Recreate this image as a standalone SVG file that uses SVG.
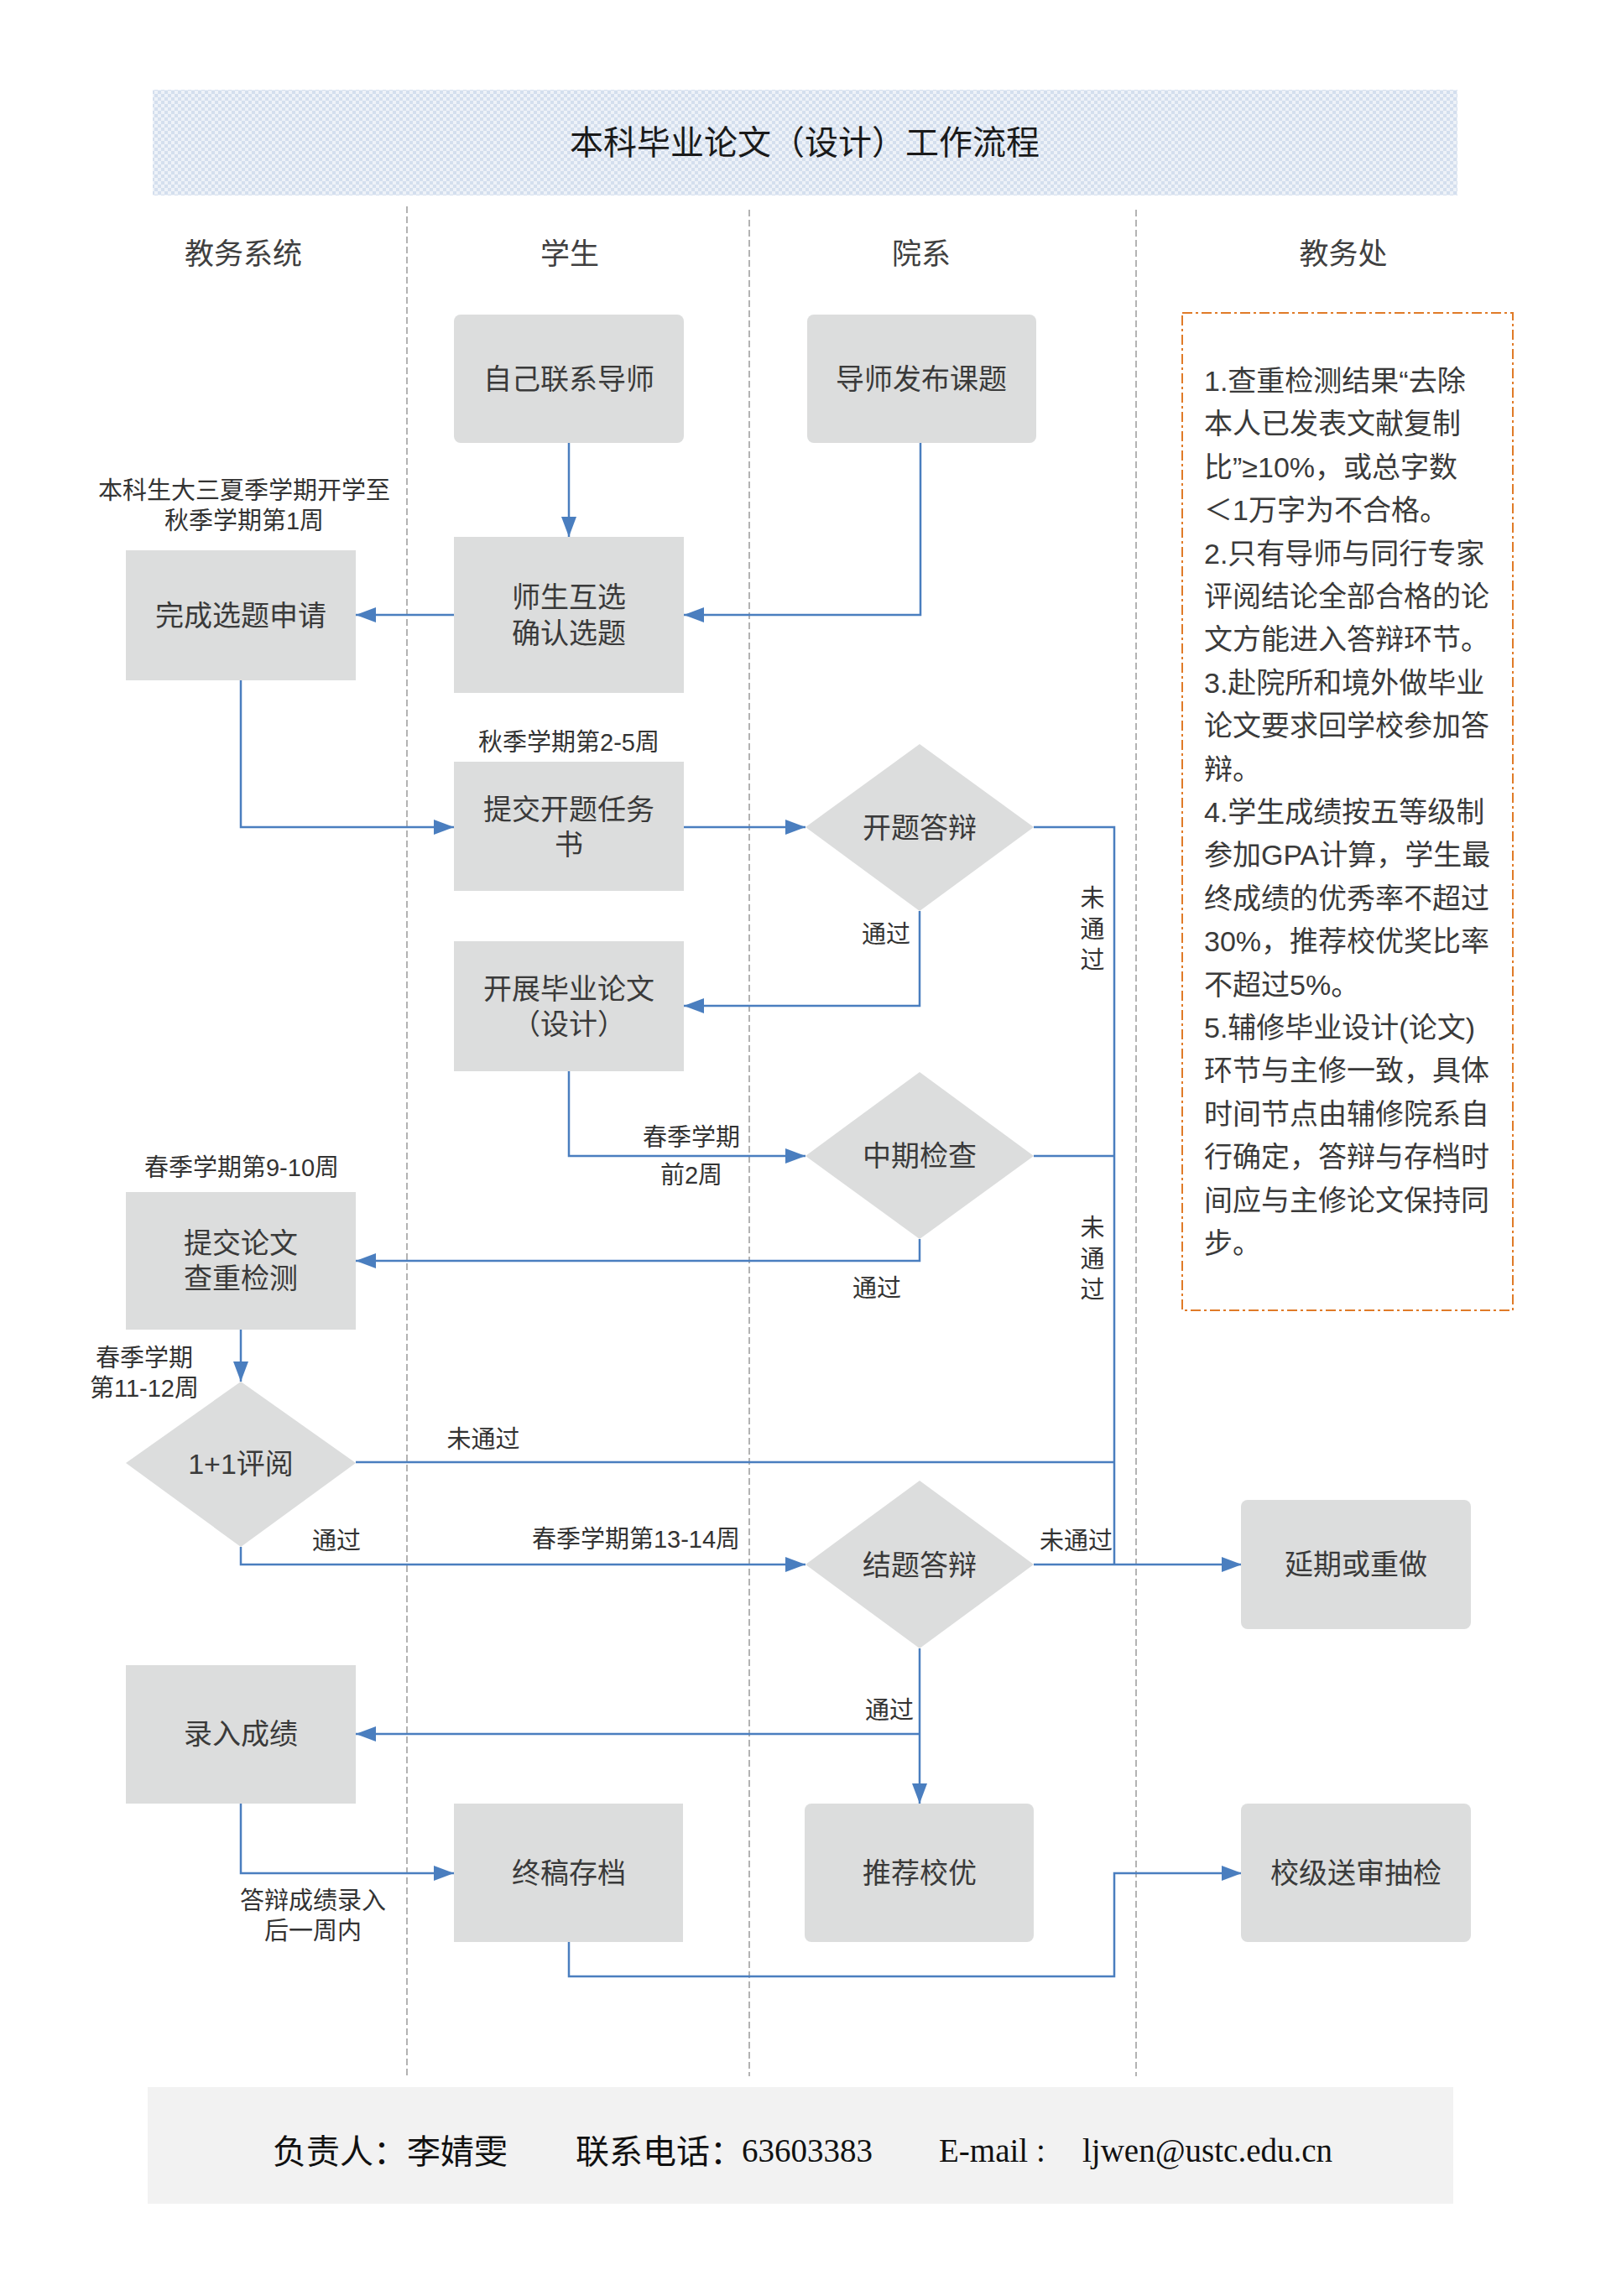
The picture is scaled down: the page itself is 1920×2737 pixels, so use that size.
<svg xmlns="http://www.w3.org/2000/svg" width="1920" height="2737" viewBox="0 0 1920 2737">
<style>
.cj{font-family:"Liberation Sans","Noto Sans CJK SC",sans-serif;}
.node{fill:#dcdddd;}
.nt{font-size:34px;fill:#3a3a3a;text-anchor:middle;dominant-baseline:central;}
.hd{font-size:35px;fill:#404040;text-anchor:middle;dominant-baseline:central;}
.lb{font-size:29px;fill:#333;text-anchor:middle;dominant-baseline:central;}
.lbr{font-size:29px;fill:#333;text-anchor:end;dominant-baseline:central;}
.note{font-size:34px;fill:#3a3a3a;dominant-baseline:central;}
.lane{stroke:#9a9a9a;stroke-width:1.5;stroke-dasharray:8 4;fill:none;}
.c{stroke:#4a7ebf;stroke-width:2.5;fill:none;}
.ca{stroke:#4a7ebf;stroke-width:2.5;fill:none;marker-end:url(#ah);}
.ft{font-size:40px;fill:#111;dominant-baseline:central;font-family:"Noto Sans CJK SC",sans-serif;}
.fs{font-size:39px;fill:#111;dominant-baseline:central;font-family:"Liberation Serif",serif;}
</style>
<defs>
<pattern id="chk" width="8" height="8" patternUnits="userSpaceOnUse">
<rect width="8" height="8" fill="#eef2f8"/>
<rect width="4" height="4" fill="#d4dfee"/>
<rect x="4" y="4" width="4" height="4" fill="#d4dfee"/>
</pattern>
<marker id="ah" markerUnits="userSpaceOnUse" viewBox="0 0 24 18" refX="24" refY="9" markerWidth="24" markerHeight="18" orient="auto">
<path d="M0,0 L24,9 L0,18 z" fill="#4a7ebf"/>
</marker>
</defs>
<rect width="1920" height="2737" fill="#ffffff"/>

<g id="banner">
<rect x="182" y="107" width="1555" height="126" fill="url(#chk)"/>
<text x="959" y="170" class="cj" font-size="40" fill="#1a1a1a" text-anchor="middle" dominant-baseline="central">本科毕业论文（设计）工作流程</text>
</g>

<g id="lanes">
<line class="lane" x1="485" y1="246" x2="485" y2="2475"/>
<line class="lane" x1="893" y1="250" x2="893" y2="2475"/>
<line class="lane" x1="1354" y1="250" x2="1354" y2="2475"/>
<text class="cj hd" x="290" y="302">教务系统</text>
<text class="cj hd" x="679" y="302">学生</text>
<text class="cj hd" x="1098" y="302">院系</text>
<text class="cj hd" x="1601" y="302">教务处</text>
</g>

<g id="connectors">
<path class="ca" d="M678,528 L678,640"/>
<path class="ca" d="M1097,528 L1097,733 L815,733"/>
<path class="ca" d="M541,733 L424,733"/>
<path class="ca" d="M287,811 L287,986 L541,986"/>
<path class="ca" d="M815,986 L960,986"/>
<path class="ca" d="M1096,1086 L1096,1199 L815,1199"/>
<path class="c" d="M1232,986 L1328,986 L1328,1865"/>
<path class="ca" d="M678,1277 L678,1378 L960,1378"/>
<path class="c" d="M1232,1378 L1328,1378"/>
<path class="ca" d="M1096,1477 L1096,1503 L424,1503"/>
<path class="ca" d="M287,1585 L287,1647"/>
<path class="c" d="M424,1743 L1328,1743"/>
<path class="ca" d="M287,1844 L287,1865 L960,1865"/>
<path class="ca" d="M1232,1865 L1480,1865"/>
<path class="ca" d="M1096,1965 L1096,2150"/>
<path class="ca" d="M1096,2067 L424,2067"/>
<path class="ca" d="M287,2150 L287,2233 L541,2233"/>
<path class="ca" d="M678,2315 L678,2356 L1328,2356 L1328,2233 L1480,2233"/>
</g>

<g id="edge-labels">
<text class="cj lb" x="291" y="585">本科生大三夏季学期开学至</text>
<text class="cj lb" x="291" y="621">秋季学期第1周</text>
<text class="cj lb" x="678" y="885">秋季学期第2-5周</text>
<text class="cj lbr" x="1085" y="1114">通过</text>
<text class="cj lb" x="1302" y="1071">未</text>
<text class="cj lb" x="1302" y="1108">通</text>
<text class="cj lb" x="1302" y="1145">过</text>
<text class="cj lb" x="824" y="1356">春季学期</text>
<text class="cj lb" x="824" y="1401">前2周</text>
<text class="cj lb" x="1302" y="1464">未</text>
<text class="cj lb" x="1302" y="1501">通</text>
<text class="cj lb" x="1302" y="1538">过</text>
<text class="cj lb" x="1045" y="1536">通过</text>
<text class="cj lb" x="288" y="1392">春季学期第9-10周</text>
<text class="cj lb" x="172" y="1619">春季学期</text>
<text class="cj lb" x="172" y="1655">第11-12周</text>
<text class="cj lb" x="576" y="1716">未通过</text>
<text class="cj lb" x="401" y="1837">通过</text>
<text class="cj lb" x="758" y="1835">春季学期第13-14周</text>
<text class="cj lbr" x="1326" y="1837">未通过</text>
<text class="cj lbr" x="1089" y="2039">通过</text>
<text class="cj lb" x="373" y="2266">答辩成绩录入</text>
<text class="cj lb" x="373" y="2302">后一周内</text>
</g>

<g id="n-lianxi">
<rect class="node" x="541" y="375" width="274" height="153" rx="8"/>
<text class="cj nt" x="678" y="452">自己联系导师</text>
</g>
<g id="n-fabu">
<rect class="node" x="962" y="375" width="273" height="153" rx="8"/>
<text class="cj nt" x="1098" y="452">导师发布课题</text>
</g>
<g id="n-huxuan">
<rect class="node" x="541" y="640" width="274" height="186"/>
<text class="cj nt" x="678" y="712">师生互选</text>
<text class="cj nt" x="678" y="755">确认选题</text>
</g>
<g id="n-shenqing">
<rect class="node" x="150" y="656" width="274" height="155"/>
<text class="cj nt" x="287" y="734">完成选题申请</text>
</g>
<g id="n-kaiti">
<rect class="node" x="541" y="908" width="274" height="154"/>
<text class="cj nt" x="678" y="965">提交开题任务</text>
<text class="cj nt" x="678" y="1007">书</text>
</g>
<g id="n-kaitidabian">
<polygon class="node" points="960,986 1096,887 1232,986 1096,1086"/>
<text class="cj nt" x="1096" y="987">开题答辩</text>
</g>
<g id="n-kaizhan">
<rect class="node" x="541" y="1122" width="274" height="155"/>
<text class="cj nt" x="678" y="1179">开展毕业论文</text>
<text class="cj nt" x="678" y="1221">（设计）</text>
</g>
<g id="n-zhongqi">
<polygon class="node" points="960,1378 1096,1278 1232,1378 1096,1477"/>
<text class="cj nt" x="1096" y="1378">中期检查</text>
</g>
<g id="n-chachong">
<rect class="node" x="150" y="1421" width="274" height="164"/>
<text class="cj nt" x="287" y="1482">提交论文</text>
<text class="cj nt" x="287" y="1524">查重检测</text>
</g>
<g id="n-pingyue">
<polygon class="node" points="150,1744 287,1647 424,1744 287,1844"/>
<text class="cj nt" x="287" y="1745">1+1评阅</text>
</g>
<g id="n-jieti">
<polygon class="node" points="960,1865 1096,1765 1232,1865 1096,1965"/>
<text class="cj nt" x="1096" y="1866">结题答辩</text>
</g>
<g id="n-yanqi">
<rect class="node" x="1479" y="1788" width="274" height="154" rx="8"/>
<text class="cj nt" x="1616" y="1865">延期或重做</text>
</g>
<g id="n-luru">
<rect class="node" x="150" y="1985" width="274" height="165"/>
<text class="cj nt" x="287" y="2067">录入成绩</text>
</g>
<g id="n-zhonggao">
<rect class="node" x="541" y="2150" width="273" height="165"/>
<text class="cj nt" x="678" y="2233">终稿存档</text>
</g>
<g id="n-xiaoyou">
<rect class="node" x="959" y="2150" width="273" height="165" rx="8"/>
<text class="cj nt" x="1096" y="2233">推荐校优</text>
</g>
<g id="n-songshen">
<rect class="node" x="1479" y="2150" width="274" height="165" rx="8"/>
<text class="cj nt" x="1616" y="2233">校级送审抽检</text>
</g>

<g id="n-note">
<rect x="1409" y="373" width="394" height="1189" fill="none" stroke="#e07b28" stroke-width="2" stroke-dasharray="12 4 3 4"/>
<text class="cj note" x="1435">
<tspan x="1435" y="454">1.查重检测结果“去除</tspan>
<tspan x="1435" y="505.4">本人已发表文献复制</tspan>
<tspan x="1435" y="556.8">比”≥10%，或总字数</tspan>
<tspan x="1435" y="608.2">＜1万字为不合格。</tspan>
<tspan x="1435" y="659.6">2.只有导师与同行专家</tspan>
<tspan x="1435" y="711">评阅结论全部合格的论</tspan>
<tspan x="1435" y="762.4">文方能进入答辩环节。</tspan>
<tspan x="1435" y="813.8">3.赴院所和境外做毕业</tspan>
<tspan x="1435" y="865.2">论文要求回学校参加答</tspan>
<tspan x="1435" y="916.6">辩。</tspan>
<tspan x="1435" y="968">4.学生成绩按五等级制</tspan>
<tspan x="1435" y="1019.4">参加GPA计算，学生最</tspan>
<tspan x="1435" y="1070.8">终成绩的优秀率不超过</tspan>
<tspan x="1435" y="1122.2">30%，推荐校优奖比率</tspan>
<tspan x="1435" y="1173.6">不超过5%。</tspan>
<tspan x="1435" y="1225">5.辅修毕业设计(论文)</tspan>
<tspan x="1435" y="1276.4">环节与主修一致，具体</tspan>
<tspan x="1435" y="1327.8">时间节点由辅修院系自</tspan>
<tspan x="1435" y="1379.2">行确定，答辩与存档时</tspan>
<tspan x="1435" y="1430.6">间应与主修论文保持同</tspan>
<tspan x="1435" y="1482">步。</tspan>
</text>
</g>

<g id="footer">
<rect x="176" y="2488" width="1556" height="139" fill="#f2f2f2"/>
<text class="ft" x="325" y="2562">负责人：李婧雯</text>
<text class="ft" x="686" y="2562">联系电话：</text>
<text class="fs" x="884" y="2563">63603383</text>
<text class="fs" x="1119" y="2563">E-mail :</text>
<text class="fs" x="1290" y="2563">ljwen@ustc.edu.cn</text>
</g>
</svg>
